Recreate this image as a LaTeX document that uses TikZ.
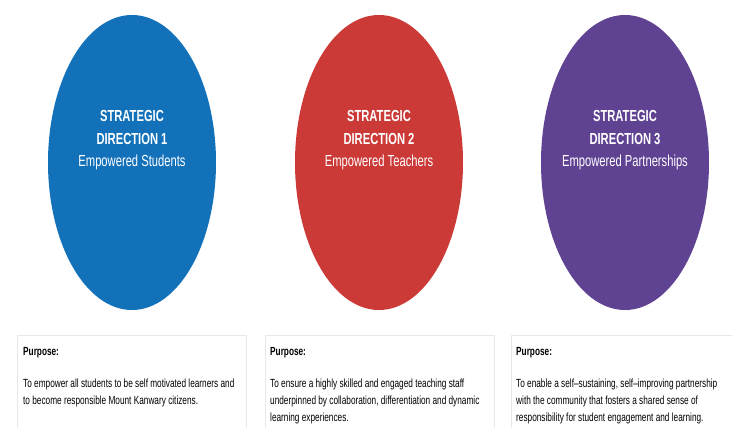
\documentclass[tikz,border=0pt]{standalone}
\usepackage{fontspec}
\setmainfont{Liberation Sans}[FakeStretch=0.7]
\usetikzlibrary{shapes.geometric}
\definecolor{sdblue}{RGB}{18,113,185}
\definecolor{sdred}{RGB}{204,58,56}
\definecolor{sdpurple}{RGB}{96,66,147}
\definecolor{boxline}{RGB}{232,232,232}

\begin{document}
\begin{tikzpicture}[x=1pt, y=-1pt,
		direction/.style={ellipse, draw=none, minimum width=168pt, minimum height=295pt, inner sep=0pt},
		dirlabel/.style={anchor=north, align=center, inner sep=0pt, text=white, font=\fontsize{16}{22.5}\selectfont},
		purposebox/.style={draw=boxline, line width=0.8pt, anchor=north west, minimum width=229pt, minimum height=120pt, inner sep=0pt},
		purposetext/.style={anchor=north west, align=left, inner sep=0pt, font=\fontsize{11.8}{16.7}\selectfont}]
		\clip (0, 0) rectangle (732, 428);
		\fill[white] (0, 0) rectangle (732, 428);

		\node[direction, fill=sdblue] (dir1) at (132, 162.5) {};
		\node[direction, fill=sdred] (dir2) at (379, 162.5) {};
		\node[direction, fill=sdpurple] (dir3) at (625, 162.5) {};

		\node[dirlabel] (lab1) at (132, 110.5) {\textbf{STRATEGIC}\\\textbf{DIRECTION 1}\\Empowered Students};
		\node[dirlabel] (lab2) at (379, 110.5) {\textbf{STRATEGIC}\\\textbf{DIRECTION 2}\\Empowered Teachers};
		\node[dirlabel] (lab3) at (625, 110.5) {\textbf{STRATEGIC}\\\textbf{DIRECTION 3}\\Empowered Partnerships};

		\node[purposebox] (box1) at (17, 334.5) {};
		\node[purposebox] (box2) at (264.5, 334.5) {};
		\node[purposebox] (box3) at (510.5, 334.5) {};

		\node[purposetext] (txt1) at (23, 347.5) {\textbf{Purpose:}\\[15.3pt]
			To empower all students to be self motivated learners and\\
			to become responsible Mount Kanwary citizens.};
		\node[purposetext] (txt2) at (270, 347.5) {\textbf{Purpose:}\\[15.3pt]
			To ensure a highly skilled and engaged teaching staff\\
			underpinned by collaboration, differentiation and dynamic\\
			learning experiences.};
		\node[purposetext] (txt3) at (516, 347.5) {\textbf{Purpose:}\\[15.3pt]
			To enable a self--sustaining, self--improving partnership\\
			with the community that fosters a shared sense of\\
			responsibility for student engagement and learning.};
	\end{tikzpicture}
\end{document}
